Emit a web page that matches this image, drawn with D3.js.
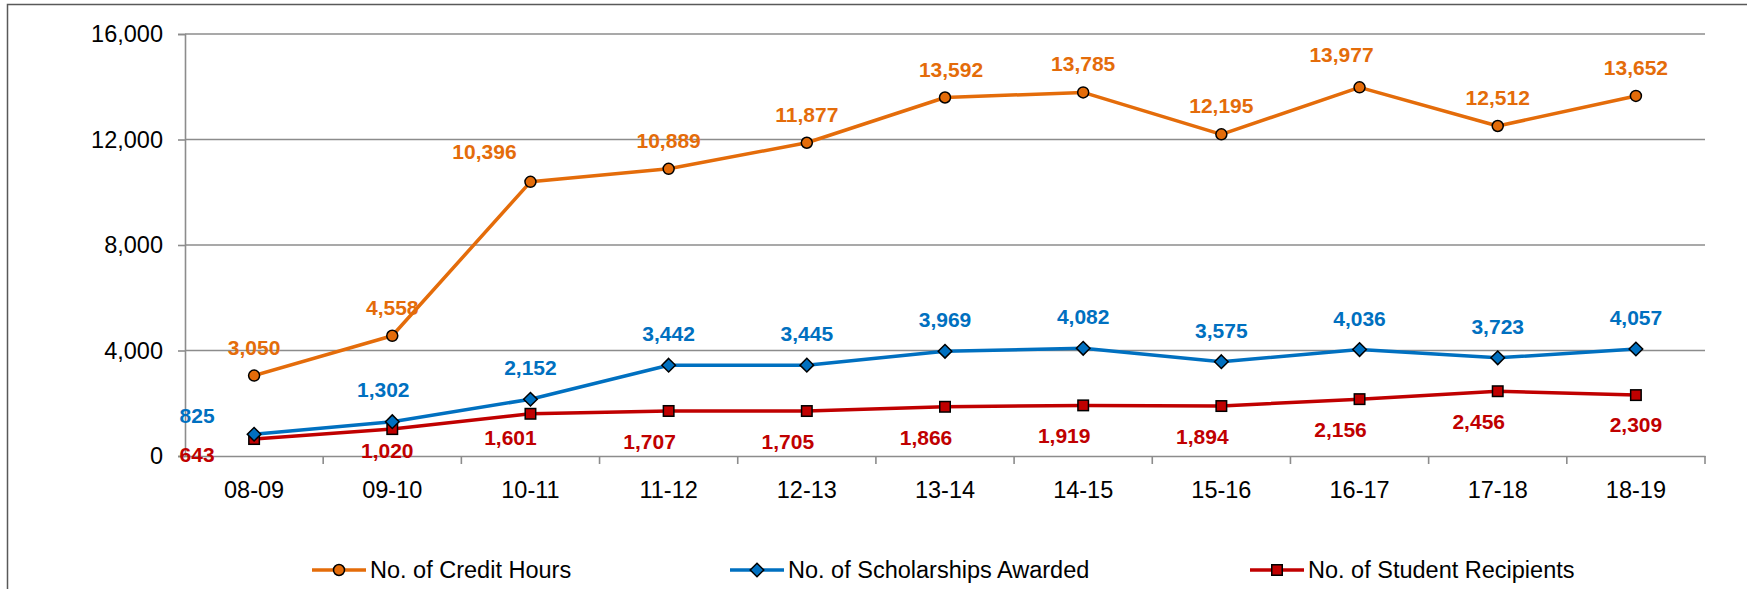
<!DOCTYPE html>
<html>
<head>
<meta charset="utf-8">
<script src="https://cdn.jsdelivr.net/npm/d3@7"></script>
<style>
  html, body { margin: 0; padding: 0; background: #fff; }
  svg { display: block; font-family: "Liberation Sans", Arial, sans-serif; }
</style>
</head>
<body>
<svg id="chart" width="1747" height="589"></svg>
<script>
// ---- data ----
const categories = ["08-09", "09-10", "10-11", "11-12", "12-13", "13-14", "14-15", "15-16", "16-17", "17-18", "18-19"];
const creditHours = [3050, 4558, 10396, 10889, 11877, 13592, 13785, 12195, 13977, 12512, 13652];
const scholarships = [825, 1302, 2152, 3442, 3445, 3969, 4082, 3575, 4036, 3723, 4057];
const recipients = [643, 1020, 1601, 1707, 1705, 1866, 1919, 1894, 2156, 2456, 2309];
const yTicks = [0, 4000, 8000, 12000, 16000];
const seriesNames = ["No. of Credit Hours", "No. of Scholarships Awarded", "No. of Student Recipients"];

// ---- styling / layout (not data) ----
const W = 1747, H = 589;
const plot = { left: 185, right: 1705, top: 34, bottom: 456 };
const fontFam = '"Liberation Sans", Arial, sans-serif';
const seriesStyle = [
  { color: "#E46C0A", marker: "circle",  lab: { dx: 0,   dy: -21 } },
  { color: "#0070C0", marker: "diamond", lab: { dx: 0,   dy: -24 } },
  { color: "#C00000", marker: "square",  lab: { dx: -19, dy: 38 } }
];
// per-label manual placement tweaks (series index, category index)
const labelTweaks = [
  { s: 0, i: 2, dx: -46, dy: -23 },
  { s: 0, i: 8, dx: -18, dy: -25 },
  { s: 0, i: 5, dx: 6,   dy: -21 },
  { s: 1, i: 0, dx: -57, dy: -11 },
  { s: 1, i: 1, dx: -9,  dy: -25 },
  { s: 2, i: 0, dx: -57, dy: 23 },
  { s: 2, i: 1, dx: -5,  dy: 29 },
  { s: 2, i: 2, dx: -20, dy: 31 },
  { s: 2, i: 10, dx: 0,  dy: 37 }
];
const legendPos = [312, 730, 1250];

const allSeries = [creditHours, scholarships, recipients];
const svg = d3.select("#chart");

// outer chart border
svg.append("rect")
  .attr("x", 7.5).attr("y", 4.5)
  .attr("width", W + 20).attr("height", H + 20)
  .attr("fill", "none").attr("stroke", "#595959").attr("stroke-width", 1.5);

const x = d3.scaleBand().domain(categories).range([plot.left, plot.right]).paddingInner(0).paddingOuter(0);
const xc = d => x(d) + x.bandwidth() / 2;
const y = d3.scaleLinear().domain([0, 16000]).range([plot.bottom, plot.top]);

// gridlines
svg.append("g").selectAll("line").data(yTicks.filter(t => t > 0)).join("line")
  .attr("x1", plot.left).attr("x2", plot.right)
  .attr("y1", d => y(d)).attr("y2", d => y(d))
  .attr("stroke", "#8C8C8C").attr("stroke-width", 1.6);

// y axis
const yAxis = d3.axisLeft(y).tickValues(yTicks).tickSize(7).tickPadding(15)
  .tickFormat(d3.format(","));
const gy = svg.append("g").attr("transform", `translate(${plot.left},0)`).call(yAxis);
gy.select(".domain").attr("stroke", "#8C8C8C").attr("stroke-width", 1.6);
gy.selectAll(".tick line").attr("stroke", "#8C8C8C").attr("stroke-width", 1.6);
gy.selectAll(".tick text").attr("font-size", "23.5px").attr("font-family", fontFam).attr("fill", "#000");

// x axis
const xAxis = d3.axisBottom(x).tickSize(0).tickPadding(25);
const gx = svg.append("g").attr("transform", `translate(0,${plot.bottom})`).call(xAxis);
gx.select(".domain").attr("stroke", "#8C8C8C").attr("stroke-width", 1.6);
gx.selectAll(".tick text").attr("font-size", "23.5px").attr("font-family", fontFam).attr("fill", "#000");
// category boundary tick marks
gx.append("g").selectAll("line").data(categories.slice(1).concat(["__end"])).join("line")
  .attr("x1", d => d === "__end" ? plot.right : x(d))
  .attr("x2", d => d === "__end" ? plot.right : x(d))
  .attr("y1", 0).attr("y2", 8)
  .attr("stroke", "#8C8C8C").attr("stroke-width", 1.6);

function drawMarker(g, type, cx, cy, color) {
  if (type === "circle") {
    g.append("circle").attr("cx", cx).attr("cy", cy).attr("r", 5.5)
      .attr("fill", color).attr("stroke", "#000").attr("stroke-width", 1.5);
  } else if (type === "diamond") {
    const r = 6.8;
    g.append("path").attr("d", `M${cx},${cy - r}L${cx + r},${cy}L${cx},${cy + r}L${cx - r},${cy}Z`)
      .attr("fill", color).attr("stroke", "#000").attr("stroke-width", 1.5);
  } else {
    const s = 10.5;
    g.append("rect").attr("x", cx - s / 2).attr("y", cy - s / 2).attr("width", s).attr("height", s)
      .attr("fill", color).attr("stroke", "#000").attr("stroke-width", 1.5);
  }
}

const line = d3.line().x((d, i) => xc(categories[i])).y(d => y(d));

[2, 1, 0].forEach(s => {
  const st = seriesStyle[s];
  const data = allSeries[s];
  const g = svg.append("g");
  g.append("path").datum(data).attr("d", line)
    .attr("fill", "none").attr("stroke", st.color).attr("stroke-width", 3.5)
    .attr("stroke-linejoin", "round");
  data.forEach((v, i) => drawMarker(g, st.marker, xc(categories[i]), y(v), st.color));
});

// data labels
[0, 1, 2].forEach(s => {
  const st = seriesStyle[s];
  const data = allSeries[s];
  svg.append("g").selectAll("text").data(data).join("text")
    .attr("x", (d, i) => {
      const t = labelTweaks.find(k => k.s === s && k.i === i);
      return xc(categories[i]) + (t ? t.dx : st.lab.dx);
    })
    .attr("y", (d, i) => {
      const t = labelTweaks.find(k => k.s === s && k.i === i);
      return y(d) + (t ? t.dy : st.lab.dy);
    })
    .attr("text-anchor", "middle")
    .attr("font-size", "21px").attr("font-weight", "bold").attr("font-family", fontFam)
    .attr("fill", st.color)
    .text(d => d3.format(",")(d));
});

// legend
const ly = 570;
seriesNames.forEach((name, s) => {
  const st = seriesStyle[s];
  const lx = legendPos[s];
  const g = svg.append("g");
  g.append("line").attr("x1", lx).attr("x2", lx + 54).attr("y1", ly).attr("y2", ly)
    .attr("stroke", st.color).attr("stroke-width", 3.5);
  drawMarker(g, st.marker, lx + 27, ly, st.color);
  g.append("text").attr("x", lx + 58).attr("y", ly).attr("dy", "0.35em")
    .attr("font-size", "23.5px").attr("font-family", fontFam).attr("fill", "#000")
    .text(name);
});
</script>
</body>
</html>
